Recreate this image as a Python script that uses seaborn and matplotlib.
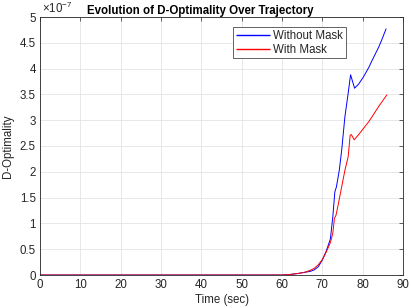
import matplotlib
matplotlib.use("Agg")
import matplotlib.pyplot as plt
import seaborn as sns
import pandas as pd
from matplotlib.lines import Line2D
from matplotlib.ticker import FuncFormatter

# Data (D-optimality values, in units of 1e-7)
time_no_mask = [0, 60, 62, 64, 65.5, 67, 68, 69, 70, 71, 72, 72.6, 73.1, 73.5, 74.2, 74.8,
                75.6, 76.4, 77.0, 77.5, 78.0, 79, 80.2, 81.5, 82.6, 84, 84.7, 85.8]
d_no_mask = [0, 0, 0.01, 0.03, 0.05, 0.07, 0.1, 0.16, 0.29, 0.47, 0.7, 1.13, 1.61, 1.71, 2.03, 2.42,
             3.07, 3.52, 3.88, 3.75, 3.62, 3.70, 3.84, 4.02, 4.20, 4.42, 4.55, 4.77]
time_mask = [0, 60, 62, 64, 65.5, 67, 68, 69, 70, 71, 72, 72.6, 73.0, 73.4, 74.0, 74.8,
             75.6, 76.0, 76.4, 76.9, 77.2, 77.9, 79, 80.2, 81.5, 82.6, 84, 86]
d_mask = [0, 0, 0.01, 0.03, 0.05, 0.09, 0.13, 0.2, 0.3, 0.45, 0.63, 0.81, 1.10, 1.16, 1.39, 1.71,
          2.03, 2.16, 2.29, 2.71, 2.72, 2.62, 2.72, 2.84, 2.97, 3.10, 3.27, 3.49]
labels = ["Without Mask", "With Mask"]
colors = ["#0000ff", "#ff0000"]
scale = 1e-7

df = pd.concat([
    pd.DataFrame({"t": time_no_mask, "d": [v * scale for v in d_no_mask], "series": labels[0]}),
    pd.DataFrame({"t": time_mask, "d": [v * scale for v in d_mask], "series": labels[1]}),
], ignore_index=True)

sns.set_theme(style="whitegrid")
plt.rcParams['font.family'] = ['Liberation Sans', 'DejaVu Sans']
plt.rcParams['mathtext.fontset'] = 'custom'
plt.rcParams['mathtext.rm'] = 'Liberation Sans'
plt.rcParams['mathtext.it'] = 'Liberation Sans'

FS = 8.3
TXT = "#262626"
LW = 0.7

fig = plt.figure(figsize=(4.11, 3.08), dpi=100)
ax = fig.add_axes([40/411, 1 - 275/308, 363/411, 258/308])
ax.set_facecolor("white")

sns.lineplot(data=df, x="t", y="d", hue="series", palette=dict(zip(labels, colors)),
             linewidth=LW, ax=ax, estimator=None, sort=False, legend=False)

ax.set_xlim(0, 90)
ax.set_ylim(0, 5e-7)
ax.set_xticks(range(0, 91, 10))
ax.set_yticks([i * 0.5e-7 for i in range(11)])
ax.yaxis.set_major_formatter(FuncFormatter(lambda v, p: "%g" % round(v / scale, 3)))
fig.text(42/411, 1 - 13/308, r"$\times 10^{-7}$", fontsize=FS, color=TXT, ha="left", va="baseline")

ax.grid(True, color="#e4e4e4", linewidth=0.6)
for s in ax.spines.values():
    s.set_visible(True)
    s.set_color(TXT)
    s.set_linewidth(0.6)
ax.tick_params(direction="in", length=3, width=0.5, color=TXT, labelsize=FS,
               labelcolor=TXT, top=True, right=True, pad=3)

ax.set_xlabel("Time (sec)", fontsize=FS, color=TXT, labelpad=2)
ax.set_ylabel("D-Optimality", fontsize=FS, color=TXT, labelpad=4)
fig.text(200/411, 1 - 14/308, "Evolution of D-Optimality Over Trajectory", fontsize=FS,
         fontweight="bold", color="black", ha="center", va="baseline")

handles = [Line2D([], [], color=c, linewidth=1.0, solid_capstyle="butt") for c in colors]
leg = ax.legend(handles, labels, loc="upper right", bbox_to_anchor=((346-40)/363, (275-27)/258),
                fontsize=FS, frameon=True, fancybox=False, handlelength=2.9, borderpad=0.25,
                labelspacing=0.15, handletextpad=0.3, borderaxespad=0)
leg.get_frame().set_edgecolor(TXT)
leg.get_frame().set_linewidth(0.5)
leg.get_frame().set_alpha(1)

fig.savefig("out.png", dpi=100)
